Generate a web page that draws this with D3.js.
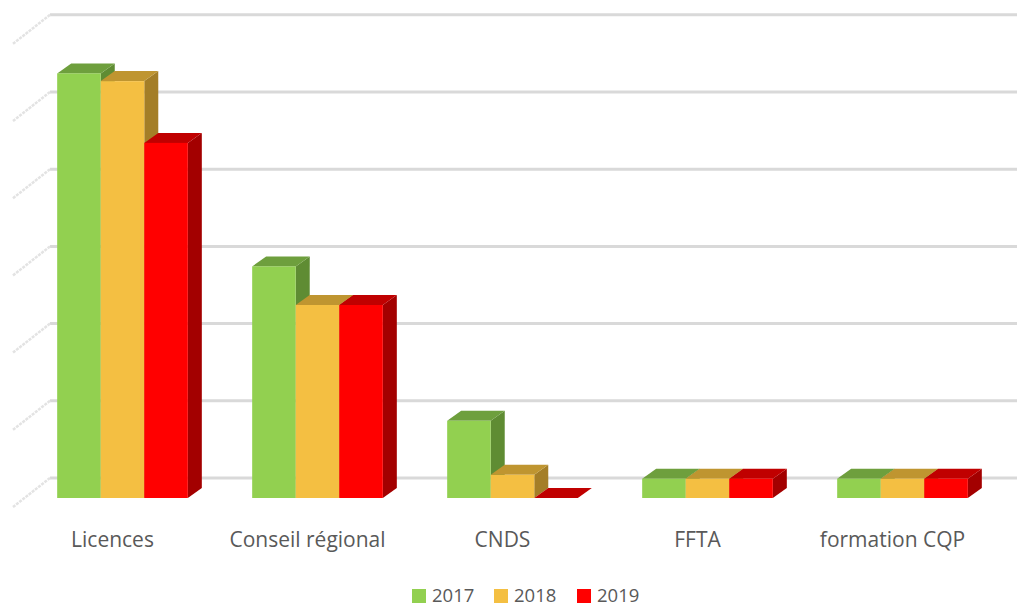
<!DOCTYPE html>
<html><head><meta charset="utf-8">
<script src="https://cdn.jsdelivr.net/npm/d3@7"></script>
<style>html,body{margin:0;padding:0;background:#fff;}svg{display:block;}</style>
</head><body>
<svg id="chart" width="1017" height="608"></svg>
<script>
const categories = ["Licences", "Conseil régional", "CNDS", "FFTA", "formation CQP"];
const years = ["2017", "2018", "2019"];
const values2017 = [55000, 30000, 10000, 2500, 2500];
const values2018 = [54000, 25000, 3000, 2500, 2500];
const values2019 = [46000, 25000, 0, 2500, 2500];
const gridTicks = [0, 10000, 20000, 30000, 40000, 50000, 60000];

const seriesValues = [values2017, values2018, values2019];
const frontColors = ["#92D050", "#F4BF42", "#FF0000"];
const topColors = ["#6E9F3D", "#BF9530", "#C00000"];
const sideColors = ["#5F8C33", "#A47E27", "#A30000"];

const svg = d3.select("#chart");
const baseY = 498;
const unitPx = 77.2;
const y = d3.scaleLinear().domain([0, 60000]).range([baseY, baseY - 6 * unitPx]);
const x = d3.scaleBand().domain(categories).range([25, 1000]).paddingInner(0.33).paddingOuter(0.165);
const xs = d3.scaleBand().domain(years).range([0, x.bandwidth()]);
const dx = 14, dy = -10;        // bar depth
const wallDy = -20;             // back wall offset
const wallX0 = 50, wallX1 = 1017;

// back wall gridlines
const grid = svg.append("g");
gridTicks.forEach(t => {
  const gy = y(t) + wallDy;
  grid.append("line").attr("x1", wallX0).attr("x2", wallX1).attr("y1", gy).attr("y2", gy)
    .attr("stroke", "#d9d9d9").attr("stroke-width", 3);
  grid.append("line").attr("x1", 13).attr("y1", gy + 29).attr("x2", wallX0).attr("y2", gy)
    .attr("stroke", "#e3e3e3").attr("stroke-width", 2.5).attr("stroke-dasharray", "3,1");
});

// bars
const bars = svg.append("g");
categories.forEach((c, ci) => {
  years.forEach((yr, si) => {
    const v = seriesValues[si][ci];
    const x0 = x(c) + xs(yr), w = xs.bandwidth();
    const yt = y(v), yb = y(0);
    const g = bars.append("g");
    g.append("path").attr("d", `M${x0 + w},${yt} L${x0 + w + dx},${yt + dy} L${x0 + w + dx},${yb + dy} L${x0 + w},${yb} Z`)
      .attr("fill", sideColors[si]);
    g.append("path").attr("d", `M${x0},${yt} L${x0 + dx},${yt + dy} L${x0 + w + dx},${yt + dy} L${x0 + w},${yt} Z`)
      .attr("fill", topColors[si]);
    if (yb - yt > 0)
      g.append("rect").attr("x", x0).attr("y", yt).attr("width", w).attr("height", yb - yt)
        .attr("fill", frontColors[si]);
  });
});

// category labels
svg.append("g").selectAll("text").data(categories).join("text")
  .attr("x", d => x(d) + x.bandwidth() / 2 - 10)
  .attr("y", 547)
  .attr("text-anchor", "middle")
  .attr("font-family", "'Open Sans', sans-serif")
  .attr("font-size", 21)
  .attr("fill", "#595959")
  .text(d => d);

// legend
const legendX = [412, 494, 577];
const lg = svg.append("g");
years.forEach((yr, i) => {
  lg.append("rect").attr("x", legendX[i]).attr("y", 589).attr("width", 14).attr("height", 14).attr("fill", frontColors[i]);
  lg.append("text").attr("x", legendX[i] + 20).attr("y", 602)
    .attr("font-family", "'Open Sans', sans-serif").attr("font-size", 18.5).attr("fill", "#595959").text(yr);
});
</script>
</body></html>
